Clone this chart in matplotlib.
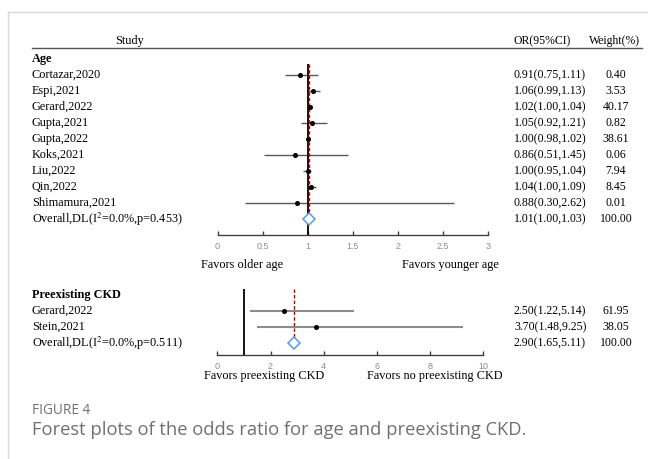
"""
Forest plots: odds ratio for age and preexisting CKD
"""

import matplotlib
matplotlib.use("Agg")
import matplotlib.pyplot as plt
from matplotlib.lines import Line2D
from matplotlib.transforms import blended_transform_factory

# -------------------------------------------------------------------
# Data
# -------------------------------------------------------------------
age_studies = ["Cortazar,2020", "Espi,2021", "Gerard,2022", "Gupta,2021", "Gupta,2022",
               "Koks,2021", "Liu,2022", "Qin,2022", "Shimamura,2021"]
age_or = [0.91, 1.06, 1.02, 1.05, 1.00, 0.86, 1.00, 1.04, 0.88]
age_lo = [0.75, 0.99, 1.00, 0.92, 0.98, 0.51, 0.95, 1.00, 0.30]
age_hi = [1.11, 1.13, 1.04, 1.21, 1.02, 1.45, 1.04, 1.09, 2.62]
age_weight = [0.40, 3.53, 40.17, 0.82, 38.61, 0.06, 7.94, 8.45, 0.01]
age_overall = [1.01, 1.00, 1.03]
age_overall_label = r"Overall,DL(I$^{2}$=0.0%,p=0.453)"
age_ticks = [0, 0.5, 1, 1.5, 2, 2.5, 3]
age_tick_labels = ["0", "0.5", "1", "1.5", "2", "2.5", "3"]

ckd_studies = ["Gerard,2022", "Stein,2021"]
ckd_or = [2.50, 3.70]
ckd_lo = [1.22, 1.48]
ckd_hi = [5.14, 9.25]
ckd_weight = [61.95, 38.05]
ckd_overall = [2.90, 1.65, 5.11]
ckd_overall_label = r"Overall,DL(I$^{2}$=0.0%,p=0.511)"
ckd_ticks = [0, 2, 4, 6, 8, 10]

# -------------------------------------------------------------------
# Layout helpers (pixel -> figure fraction)
# -------------------------------------------------------------------
W, H = 648, 459
fig = plt.figure(figsize=(W / 100, H / 100), dpi=100)
plt.rcParams["mathtext.fontset"] = "stix"

SERIF = "Liberation Serif"
TXT = dict(family=SERIF, fontsize=8.8, color="black")
NUM = dict(family=SERIF, fontsize=8.5, color="black")
LEFT = 32


def fx(px):
    return px / W


def fy(py):
    return 1 - py / H


def make_axes(x0, x1, y_top, y_axis):
    return fig.add_axes([fx(x0), fy(y_axis), fx(x1) - fx(x0), fy(y_top) - fy(y_axis)])


def style_axes(ax, ticks, labels):
    for s in ["top", "left", "right"]:
        ax.spines[s].set_visible(False)
    ax.spines["bottom"].set_color("#404040")
    ax.spines["bottom"].set_linewidth(1.0)
    ax.set_yticks([])
    ax.set_xticks(ticks)
    ax.set_xticklabels(labels)
    ax.tick_params(axis="x", direction="in", length=3, width=1, color="#404040",
                   labelsize=6.5, labelcolor="#8c8c8c", pad=5)
    for t in ax.get_xticklabels():
        t.set_family("Liberation Sans")
    ax.patch.set_alpha(0)


def draw_block(ax, ors, los, his, overall, ci_color, ci_lw):
    n = len(ors)
    rows = list(range(1, n + 1))
    ax.hlines(rows, los, his, color=ci_color, lw=ci_lw, zorder=2)
    ax.plot(ors, rows, "o", color="black", ms=2.6, zorder=4)
    ax.plot([overall[0]], [n + 1], "D", ms=6.0, mfc="white", mec="#5b9bd5",
            mew=1.1, zorder=5)


def row_texts(ax, tr, header, names, ors, los, his, weights, overall, overall_label):
    ax.text(fx(LEFT), 0, header, transform=tr, va="center", fontweight="bold", **TXT)
    for i, name in enumerate(names):
        r = i + 1
        ax.text(fx(LEFT), r, name, transform=tr, va="center", **TXT)
        ax.text(fx(514), r, f"{ors[i]:.2f}({los[i]:.2f},{his[i]:.2f})",
                transform=tr, va="center", **NUM)
        ax.text(fx(616), r, f"{weights[i]:.2f}", transform=tr, va="center", ha="center",
                **NUM)
    r = len(names) + 1
    ax.text(fx(LEFT), r, overall_label, transform=tr, va="center", **TXT)
    ax.text(fx(514), r, "{:.2f}({:.2f},{:.2f})".format(*overall), transform=tr,
            va="center", **NUM)
    ax.text(fx(616), r, "100.00", transform=tr, va="center", ha="center", **NUM)


# -------------------------------------------------------------------
# Frame + header
# -------------------------------------------------------------------
fig.add_artist(Line2D([fx(8), 1], [fy(12), fy(12)], color="#d9d9d9", lw=1))
fig.add_artist(Line2D([fx(8), fx(8)], [fy(12), 0], color="#d9d9d9", lw=1))

fig.text(fx(130), fy(41), "Study", ha="center", va="center", **TXT)
fig.text(fx(542), fy(41), "OR(95%CI)", ha="center", va="center", **NUM)
fig.text(fx(614), fy(41), "Weight(%)", ha="center", va="center", **NUM)
fig.add_artist(Line2D([fx(LEFT), fx(642)], [fy(47.5), fy(47.5)], color="#555555", lw=1))

# -------------------------------------------------------------------
# Age block
# -------------------------------------------------------------------
age_step, age_y0, age_axis = 16.0, 59.0, 235.0
n_age = len(age_or)
age_bottom = (age_axis - age_y0) / age_step
ax1 = make_axes(217.5, 488.3, age_y0 - 0.5 * age_step, age_axis)
ax1.set_xlim(0, 3)
ax1.set_ylim(age_bottom, -0.5)
style_axes(ax1, age_ticks, age_tick_labels)
ax1.vlines(1, 0.3, age_bottom, color="black", lw=1.3, zorder=3)
ax1.vlines(age_overall[0], 0.3, n_age + 1.35, color="#c00000", lw=1,
           linestyles=(0, (2.5, 1.5)), zorder=3)
draw_block(ax1, age_or, age_lo, age_hi, age_overall, "#595959", 1.0)

tr1 = blended_transform_factory(fig.transFigure, ax1.transData)
row_texts(ax1, tr1, "Age", age_studies, age_or, age_lo, age_hi, age_weight,
          age_overall, age_overall_label)

fig.text(fx(242), fy(265), "Favors older age", ha="center", va="center", **TXT)
fig.text(fx(450), fy(265), "Favors younger age", ha="center", va="center", **TXT)

# -------------------------------------------------------------------
# Preexisting CKD block
# -------------------------------------------------------------------
ckd_step, ckd_y0, ckd_axis = 16.0, 295.0, 355.0
n_ckd = len(ckd_or)
ckd_bottom = (ckd_axis - ckd_y0) / ckd_step
ax2 = make_axes(217.3, 483.3, ckd_y0 - 0.5 * ckd_step, ckd_axis)
ax2.set_xlim(0, 10)
ax2.set_ylim(ckd_bottom, -0.5)
style_axes(ax2, ckd_ticks, [str(t) for t in ckd_ticks])
ax2.vlines(1, -0.35, ckd_bottom, color="black", lw=1.3, zorder=3)
ax2.vlines(ckd_overall[0], -0.35, n_ckd + 1.2, color="#c00000", lw=1,
           linestyles=(0, (2.5, 1.5)), zorder=3)
draw_block(ax2, ckd_or, ckd_lo, ckd_hi, ckd_overall, "#8c8c8c", 1.5)

tr2 = blended_transform_factory(fig.transFigure, ax2.transData)
row_texts(ax2, tr2, "Preexisting CKD", ckd_studies, ckd_or, ckd_lo, ckd_hi, ckd_weight,
          ckd_overall, ckd_overall_label)

fig.text(fx(264), fy(376), "Favors preexisting CKD", ha="center", va="center", **TXT)
fig.text(fx(435), fy(376), "Favors no preexisting CKD", ha="center", va="center", **TXT)

# -------------------------------------------------------------------
# Caption
# -------------------------------------------------------------------
fig.text(fx(LEFT), fy(410), "FIGURE 4", ha="left", va="center", family="Open Sans",
         fontsize=9.8, color="#707070")
fig.text(fx(LEFT), fy(430), "Forest plots of the odds ratio for age and preexisting CKD.",
         ha="left", va="center", family="Open Sans", fontsize=13.2, color="#707070")

fig.savefig("out.png", dpi=100)
